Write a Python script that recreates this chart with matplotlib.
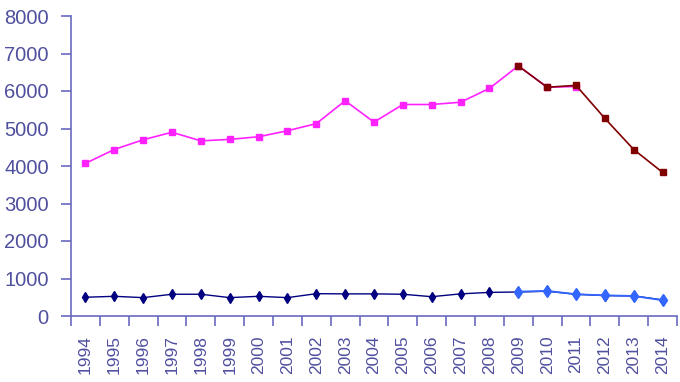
import numpy as np
import matplotlib.pyplot as plt

plt.rcParams['font.family'] = ['Liberation Sans', 'DejaVu Sans']

years = [str(y) for y in range(1994, 2015)]

# upper series (pink up to 2011, dark red from 2009 on)
upper = [4070, 4440, 4700, 4900, 4670, 4710, 4780, 4940, 5130, 5740,
         5170, 5640, 5640, 5700, 6070, 6670, 6100, 6120]
upper_late = [6670, 6100, 6150, 5270, 4440, 3830]

# lower series (dark blue whole span, light blue from 2009 on)
lower = [500, 525, 490, 580, 580, 490, 525, 490, 595, 590,
         590, 580, 515, 590, 630, 640, 660, 580, 545, 535, 430]
lower_late = [650, 670, 580, 550, 535, 420]

axis_col = '#6a6ac0'
text_col = '#50509f'

fig = plt.figure(figsize=(6.8, 3.82), dpi=100)
ax = fig.add_axes([71 / 680, 66 / 382, 606 / 680, 300 / 382])

x = np.arange(len(years))
ax.plot(x[:len(upper)], upper, color='#ff22ff', marker='s', ms=4.5, lw=1.2)
ax.plot(x[-len(upper_late):], upper_late, color='#800000', marker='s', ms=4.5, lw=1.2)
ax.plot(x, lower, color='#000080', marker='d', ms=5, lw=1.0)
ax.plot(x[-len(lower_late):], lower_late, color='#3366ff', marker='d', ms=6, lw=1.3)

ax.set_xlim(-0.5, len(years) - 0.5)
ax.set_ylim(0, 8000)
ax.set_yticks(range(0, 8001, 1000))
ax.set_xticks(x)
ax.set_xticklabels(years, rotation=90)
ax.set_xticks(np.arange(-0.5, len(years)), minor=True)

for s in ['top', 'right']:
    ax.spines[s].set_visible(False)
for s in ['left', 'bottom']:
    ax.spines[s].set_color(axis_col)
    ax.spines[s].set_linewidth(1.2)

ax.tick_params(axis='y', colors=axis_col, labelcolor=text_col, labelsize=14.5,
               length=7, width=1.2, pad=9)
ax.tick_params(axis='x', which='major', length=0, labelcolor=text_col,
               labelsize=12.5, pad=14)
ax.tick_params(axis='x', which='minor', colors=axis_col, length=7, width=1.2)

fig.savefig('out.png', dpi=100)
